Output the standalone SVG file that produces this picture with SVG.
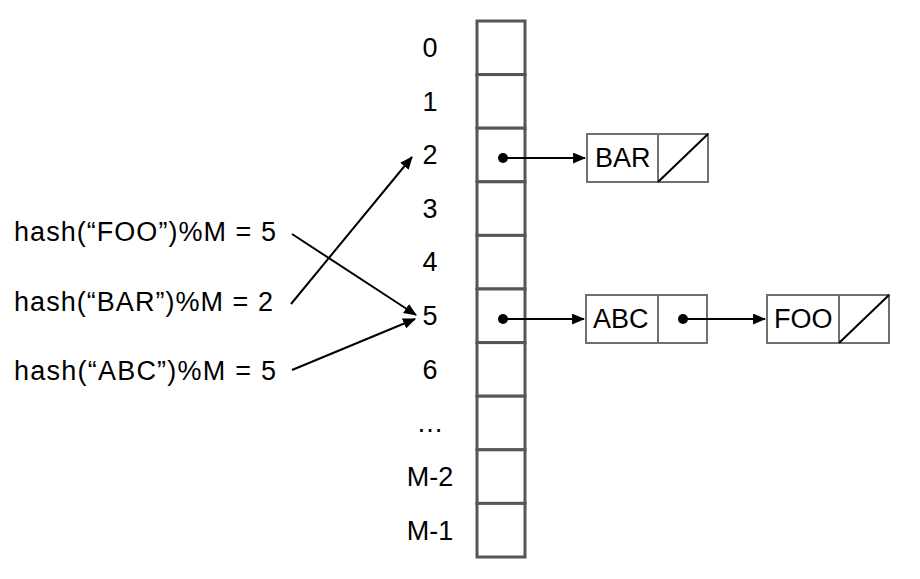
<svg xmlns="http://www.w3.org/2000/svg" width="920" height="579" viewBox="0 0 920 579">
<defs>
<style>
text{font-family:"Liberation Sans",Arial,sans-serif;font-size:27px;fill:#000}
.idx{text-anchor:middle}
.cell{fill:#fff;stroke:#53565a;stroke-width:3}
.node{fill:#fff;stroke:#6d7074;stroke-width:2}
.conn{stroke:#000;stroke-width:2;fill:none}
</style>
<marker id="ah2" viewBox="0 0 12 10" refX="11" refY="5" markerWidth="13" markerHeight="11" markerUnits="userSpaceOnUse" orient="auto">
<path d="M0,0 L12,5 L0,10 z" fill="#000"/>
</marker>
</defs>
<g id="array">
<rect class="cell" x="477" y="21" width="48" height="53.6"/>
<rect class="cell" x="477" y="74.6" width="48" height="53.6"/>
<rect class="cell" x="477" y="128.2" width="48" height="53.6"/>
<rect class="cell" x="477" y="181.8" width="48" height="53.6"/>
<rect class="cell" x="477" y="235.4" width="48" height="53.6"/>
<rect class="cell" x="477" y="289" width="48" height="53.6"/>
<rect class="cell" x="477" y="342.6" width="48" height="53.6"/>
<rect class="cell" x="477" y="396.2" width="48" height="53.6"/>
<rect class="cell" x="477" y="449.8" width="48" height="53.6"/>
<rect class="cell" x="477" y="503.4" width="48" height="53.6"/>
</g>
<g id="indices">
<text class="idx" x="430" y="57">0</text>
<text class="idx" x="430" y="111">1</text>
<text class="idx" x="430" y="164">2</text>
<text class="idx" x="430" y="218">3</text>
<text class="idx" x="430" y="271">4</text>
<text class="idx" x="430" y="325">5</text>
<text class="idx" x="430" y="379">6</text>
<text class="idx" x="430" y="432">…</text>
<text class="idx" x="430" y="486">M-2</text>
<text class="idx" x="430" y="540">M-1</text>
</g>
<g id="hashes">
<text x="14" y="241" textLength="262" lengthAdjust="spacing">hash(“FOO”)%M = 5</text>
<text x="14" y="311" textLength="259" lengthAdjust="spacing">hash(“BAR”)%M = 2</text>
<text x="14" y="380" textLength="262" lengthAdjust="spacing">hash(“ABC”)%M = 5</text>
</g>
<g id="node-bar">
<rect class="node" x="587" y="134" width="121" height="48"/>
<line class="node" x1="658" y1="134" x2="658" y2="182"/>
<line x1="658" y1="182" x2="708" y2="134" stroke="#000" stroke-width="2"/>
<text x="595" y="167">BAR</text>
</g>
<g id="node-abc">
<rect class="node" x="586" y="295" width="121" height="48"/>
<line class="node" x1="658" y1="295" x2="658" y2="343"/>
<text x="593" y="328">ABC</text>
<circle cx="683" cy="319" r="5" fill="#000"/>
</g>
<g id="node-foo">
<rect class="node" x="767" y="295" width="122" height="48"/>
<line class="node" x1="839" y1="295" x2="839" y2="343"/>
<line x1="839" y1="343" x2="889" y2="295" stroke="#000" stroke-width="2"/>
<text x="774" y="328">FOO</text>
</g>
<g id="connectors">
<circle cx="503" cy="158" r="5" fill="#000"/>
<circle cx="503" cy="319" r="5" fill="#000"/>
<line class="conn" x1="503" y1="158" x2="585" y2="158" marker-end="url(#ah2)"/>
<line class="conn" x1="503" y1="319" x2="584" y2="319" marker-end="url(#ah2)"/>
<line class="conn" x1="683" y1="319" x2="765" y2="319" marker-end="url(#ah2)"/>
<line class="conn" x1="292" y1="234" x2="416" y2="315" marker-end="url(#ah2)"/>
<line class="conn" x1="291" y1="304" x2="412" y2="157" marker-end="url(#ah2)"/>
<line class="conn" x1="292" y1="370" x2="415" y2="319" marker-end="url(#ah2)"/>
</g>
</svg>
